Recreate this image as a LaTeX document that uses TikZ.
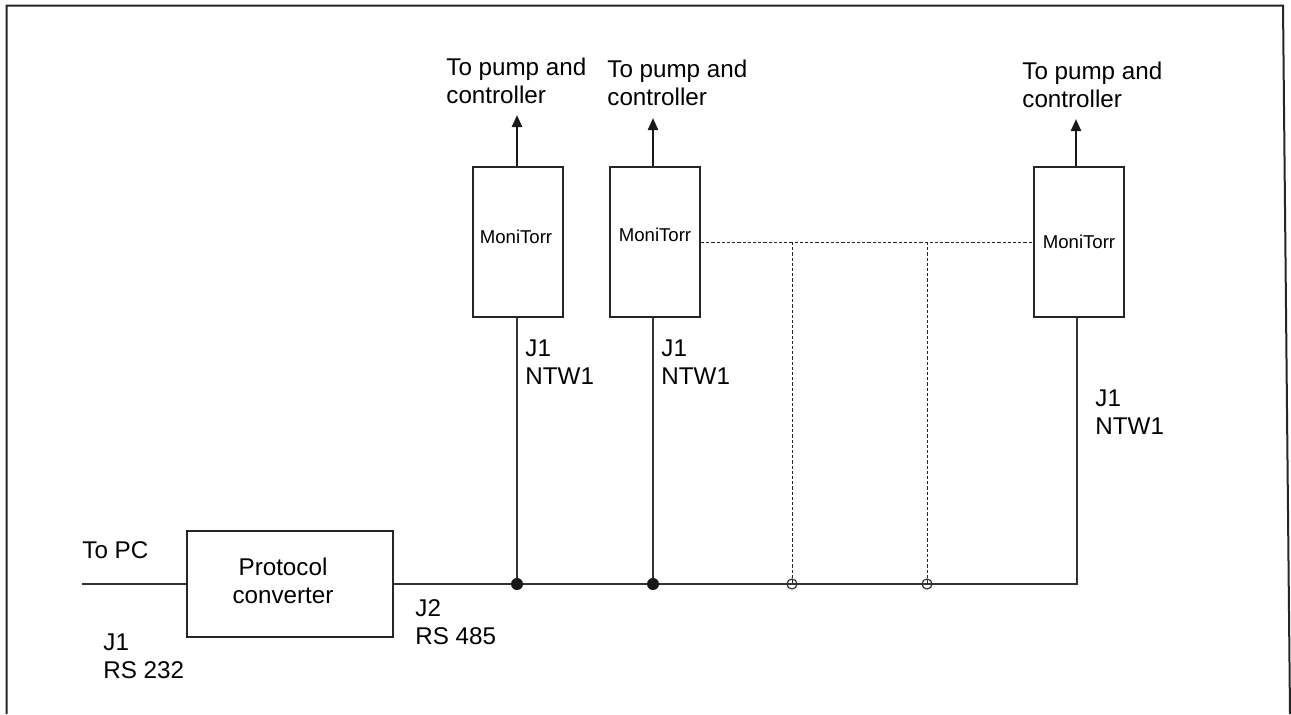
\documentclass[tikz,border=0pt]{standalone}
\usepackage{fontspec}
\setmainfont{Liberation Sans}
\usetikzlibrary{arrows.meta}
\begin{document}
\begin{tikzpicture}[x=0.5pt,y=-0.5pt,
  big/.style={font=\fontsize{12.1pt}{13.8pt}\selectfont, inner sep=0pt, align=left, anchor=base west},
  small/.style={font=\fontsize{9.3pt}{10pt}\selectfont, inner sep=0pt, anchor=base},
  monibox/.style={draw=black!85, line width=1pt, minimum width=45pt, minimum height=75pt, inner sep=0pt},
  pcbox/.style={draw=black!85, line width=1pt, minimum width=103pt, minimum height=53pt, inner sep=0pt},
  frame/.style={draw=black!85, line width=1pt},
  wire/.style={draw=black!80, line width=0.6pt},
  dashwire/.style={draw=black!85, line width=0.5pt, dash pattern=on 1.6pt off 1pt},
  arr/.style={draw=black!90, line width=1.1pt, -{Triangle[length=6pt,width=5pt]}},
]
\useasboundingbox (0,0) rectangle (1291,714);
% frame
\draw[frame] (6.5,714) -- (6.5,5.5) -- (1283,5.5) -- (1290,714);

% boxes
\node[pcbox] (pc) at (290,584) {};
\node[big, align=center, anchor=base] (pct) at (283,603) {Protocol\\converter};
\node[monibox] (m1) at (518,242) {};
\node[monibox] (m2) at (655,242) {};
\node[monibox] (m3) at (1078.5,242) {};
\node[small] (t1) at (516,243) {MoniTorr};
\node[small] (t2) at (655,241) {MoniTorr};
\node[small] (t3) at (1079,248) {MoniTorr};

% arrows to pump
\coordinate (a1) at (517,115);
\coordinate (a2) at (653,118);
\coordinate (a3) at (1076,119);
\draw[arr] (a1 |- m1.north) -- (a1);
\draw[arr] (a2 |- m2.north) -- (a2);
\draw[arr] (a3 |- m3.north) -- (a3);
\node[big] (p1) at (446,103) {To pump and\\controller};
\node[big] (p2) at (607,105) {To pump and\\controller};
\node[big] (p3) at (1022,107) {To pump and\\controller};

% main bus
\coordinate (pcin) at (82,584);
\coordinate (j1) at (517,584);
\coordinate (j2) at (653,584);
\coordinate (o1) at (792,584);
\coordinate (o2) at (927,584);
\coordinate (c3) at (1077,584);
\draw[wire] (pcin) -- (pc.west);
\draw[wire] (pc.east) -- (c3) -- (c3 |- m3.south);
\draw[wire] (j1) -- (j1 |- m1.south);
\draw[wire] (j2) -- (j2 |- m2.south);
\fill[black!90] (j1) circle[radius=3pt];
\fill[black!90] (j2) circle[radius=3pt];

% dashed network
\coordinate (d1) at (o1 |- m2.east);
\coordinate (d2) at (o2 |- m2.east);
\draw[dashwire] (m2.east) -- (m3.west);
\draw[dashwire] (d1) -- (o1);
\draw[dashwire] (d2) -- (o2);
\draw[wire] (o1) circle[radius=2.5pt];
\draw[wire] (o2) circle[radius=2.5pt];

% labels
\node[big] (l0) at (82,558) {To PC};
\node[big] (l1) at (103,678) {J1\\RS 232};
\node[big] (l2) at (415,644) {J2\\RS 485};
\node[big] (n1) at (525,384) {J1\\NTW1};
\node[big] (n2) at (661,384) {J1\\NTW1};
\node[big] (n3) at (1095,434) {J1\\NTW1};
\end{tikzpicture}
\end{document}
